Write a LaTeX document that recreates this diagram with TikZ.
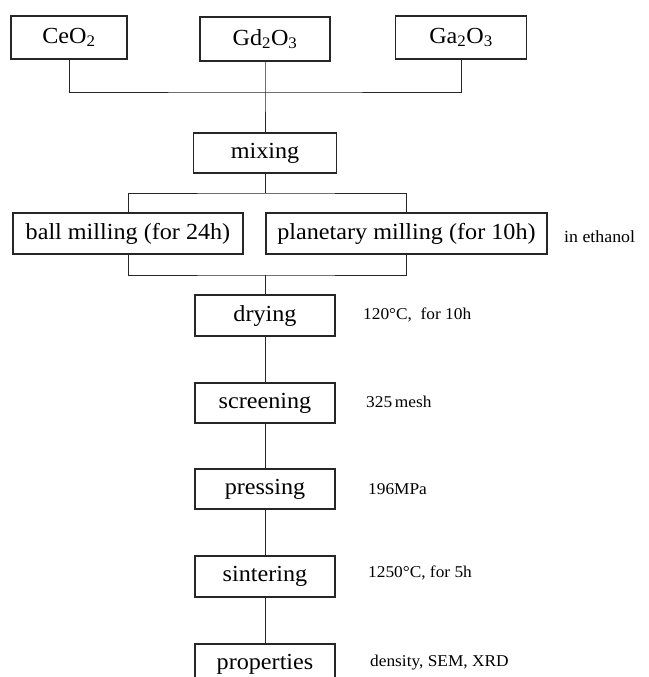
\documentclass[tikz,border=0pt]{standalone}
\usepackage{fontspec}
\setmainfont{Liberation Serif}[FakeStretch=1.05]
\begin{document}
\begin{tikzpicture}[x=1pt,y=-1pt,
  stepbox/.style={draw=black!85,line width=1.1pt,inner sep=0pt,align=center,
    font=\fontsize{23}{27}\selectfont},
  note/.style={anchor=west,inner sep=0pt,font=\fontsize{16.5}{19}\selectfont},
  link/.style={draw=black!85,line width=1pt}]
\clip (0,0) rectangle (648,677);
\fill[white] (0,0) rectangle (648,677);
% top row
\node[stepbox,minimum width=116pt,minimum height=43pt] (ce) at (69,37.5) {CeO\textsubscript{2}};
\node[stepbox,minimum width=130pt,minimum height=44pt] (gd) at (265,39) {Gd\textsubscript{2}O\textsubscript{3}};
\node[stepbox,minimum width=131pt,minimum height=43pt] (ga) at (461,37.5) {Ga\textsubscript{2}O\textsubscript{3}};
\node[stepbox,minimum width=143pt,minimum height=40pt] (mix) at (265,153) {mixing};
\node[stepbox,minimum width=230pt,minimum height=41pt] (ball) at (128,233.5) {ball milling (for 24h)};
\node[stepbox,minimum width=281pt,minimum height=41pt] (plan) at (406.5,233.5) {planetary milling (for 10h)};
\node[stepbox,minimum width=140pt,minimum height=41pt] (dry) at (265,315.5) {drying};
\node[stepbox,minimum width=140pt,minimum height=40pt] (scr) at (265,403) {screening};
\node[stepbox,minimum width=140pt,minimum height=40pt] (pre) at (265,489) {pressing};
\node[stepbox,minimum width=140pt,minimum height=41pt] (sin) at (265,576.5) {sintering};
\node[stepbox,minimum width=140pt,minimum height=41pt] (prop) at (265,664.5) {properties};
% notes
\node[note,font=\fontsize{17}{20}\selectfont] (n1) at (564,237) {in ethanol};
\node[note] (n2) at (363,315) {120\textdegree C,\ \ for 10h};
\node[note] (n3) at (366,402) {325\,mesh};
\node[note] (n4) at (368,489) {196MPa};
\node[note] (n5) at (368,573) {1250\textdegree C, for 5h};
\node[note] (n6) at (370,663) {density, SEM, XRD};
% junction coordinates
\coordinate (j1) at (265,92);
\coordinate (j2) at (265,193);
\coordinate (j3) at (265,275);
% connectors
\draw[link] (ce.south) |- (j1) -| (ga.south);
\draw[link] (gd.south) -- (j1) -- (mix.north);
\draw[link] (mix.south) -- (j2);
\draw[link] (ball.north) |- (j2) -| (plan.north);
\draw[link] (ball.south) |- (j3) -| (plan.south);
\draw[link] (j3) -- (dry.north);
\draw[link] (dry.south) -- (scr.north);
\draw[link] (scr.south) -- (pre.north);
\draw[link] (pre.south) -- (sin.north);
\draw[link] (sin.south) -- (prop.north);
\end{tikzpicture}
\end{document}
